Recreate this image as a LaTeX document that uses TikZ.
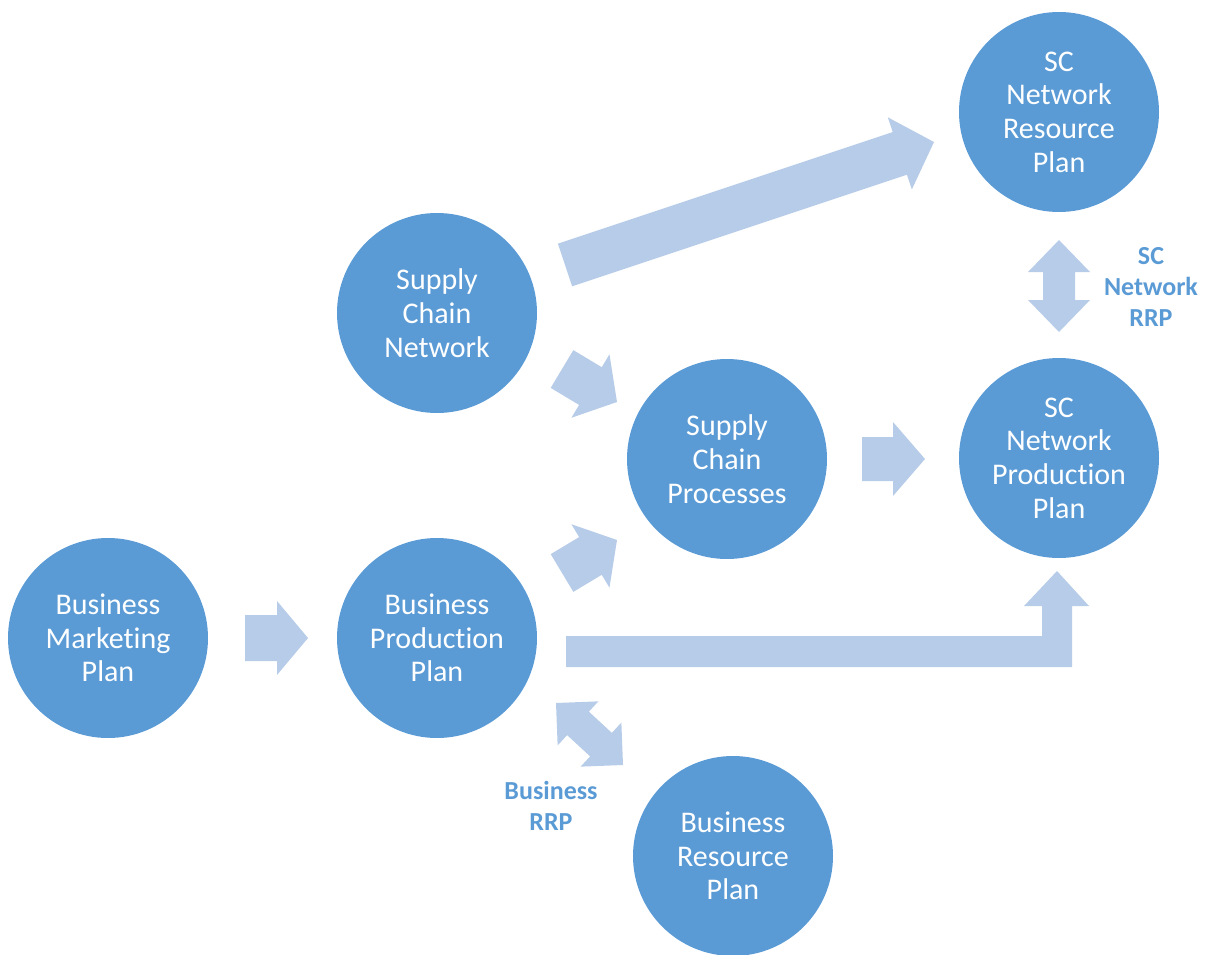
\documentclass[tikz,border=0pt]{standalone}
\usepackage{fontspec}
\setmainfont[Ligatures=NoCommon]{Carlito}
\usetikzlibrary{calc}
\definecolor{circblue}{HTML}{5B9BD5}
\definecolor{arrblue}{HTML}{B7CCE8}
\newcommand\blockarr[5]{%
  \coordinate (ba-h) at ($(#2)!#5!(#1)$);
  \fill[arrblue] ($(#1)!#3!90:(#2)$) -- ($(ba-h)!#3!90:(#2)$) -- ($(ba-h)!#4!90:(#2)$)
    -- (#2) -- ($(ba-h)!#4!-90:(#2)$) -- ($(ba-h)!#3!-90:(#2)$) -- ($(#1)!#3!-90:(#2)$) -- cycle;
}
\newcommand\dblarr[5]{%
  \coordinate (da-h) at ($(#1)!#5!(#2)$);
  \coordinate (da-k) at ($(#2)!#5!(#1)$);
  \fill[arrblue] (#1) -- ($(da-h)!#4!90:(#2)$) -- ($(da-h)!#3!90:(#2)$) -- ($(da-k)!#3!90:(#2)$)
    -- ($(da-k)!#4!90:(#2)$) -- (#2) -- ($(da-k)!#4!-90:(#2)$) -- ($(da-k)!#3!-90:(#2)$)
    -- ($(da-h)!#3!-90:(#2)$) -- ($(da-h)!#4!-90:(#2)$) -- cycle;
}
\begin{document}
\begin{tikzpicture}[x=1pt,y=-1pt,
  plan/.style={circle,fill=circblue,minimum size=200pt,inner sep=0pt,text=white,align=center,
    font=\fontsize{30}{33.7}\selectfont},
  lbl/.style={text=circblue,align=center,font=\fontsize{26}{31}\selectfont\bfseries}]
\useasboundingbox (0,0) rectangle (1208,955);
% circles
\node[plan] (scnrp) at (1059,112) {SC\\Network\\Resource\\Plan};
\node[plan] (scn) at (437,313) {Supply\\Chain\\Network};
\node[plan] (scp) at (727,459) {Supply\\Chain\\Processes};
\node[plan] (scnpp) at (1059,458) {SC\\Network\\Production\\Plan};
\node[plan] (bmp) at (108,638) {Business\\Marketing\\Plan};
\node[plan] (bpp) at (437,638) {Business\\Production\\Plan};
\node[plan] (brp) at (733,856) {Business\\Resource\\Plan};
% labels
\node[lbl] (l1) at (1151,287) {SC\\Network\\RRP};
\node[lbl] (l2) at (551,806) {Business\\RRP};
% arrow end points
\coordinate (a1s) at (565,265); \coordinate (a1e) at (934,142);
\coordinate (a2s) at (562,369); \coordinate (a2e) at (617,402);
\coordinate (a3s) at (562,573); \coordinate (a3e) at (617,540);
\coordinate (a4s) at (862,459); \coordinate (a4e) at (925,459);
\coordinate (a5s) at (245,638); \coordinate (a5e) at (308,638);
\coordinate (a7s) at (556,703); \coordinate (a7e) at (623,765);
\coordinate (a8s) at (1059,240); \coordinate (a8e) at (1059,332);
% arrows
\blockarr{a1s}{a1e}{22.5pt}{38pt}{36pt}
\blockarr{a2s}{a2e}{22pt}{37pt}{31pt}
\blockarr{a3s}{a3e}{22pt}{37pt}{31pt}
\blockarr{a4s}{a4e}{22pt}{37pt}{32pt}
\blockarr{a5s}{a5e}{23pt}{37pt}{31pt}
\dblarr{a7s}{a7e}{16pt}{30pt}{30pt}
\dblarr{a8s}{a8e}{16pt}{31pt}{32pt}
% elbow arrow
\fill[arrblue] (566,636) -- (1042,636) -- (1042,606) -- (1024,606) -- (1057,571)
  -- (1089,606) -- (1072,606) -- (1072,667) -- (566,667) -- cycle;
\end{tikzpicture}
\end{document}
